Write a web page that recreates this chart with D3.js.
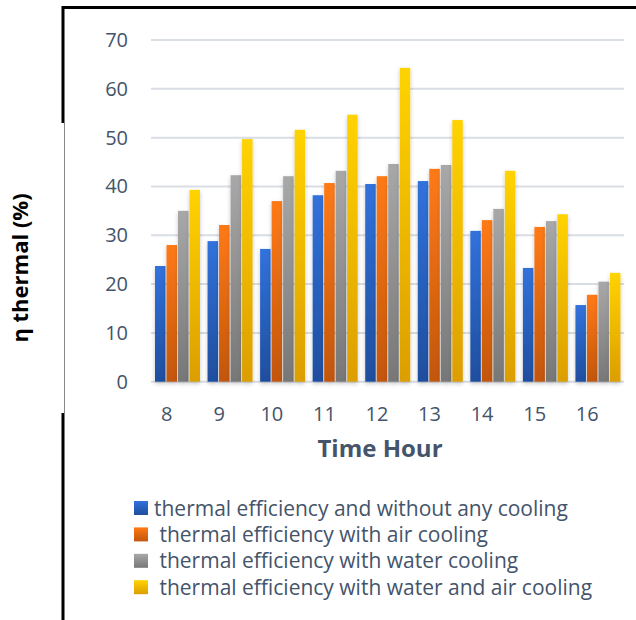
<!DOCTYPE html>
<meta charset="utf-8">
<style>
body { margin: 0; background: #fff; }
svg { display: block; font-family: "Open Sans", sans-serif; }
.grid line { stroke: #d9dde4; stroke-width: 2px; }
.tick-label { fill: #44546a; font-size: 20px; }
.legend text { fill: #44546a; font-size: 21px; }
</style>
<svg width="636" height="620"></svg>
<script src="https://cdn.jsdelivr.net/npm/d3@7"></script>
<script>

var hours = ["8", "9", "10", "11", "12", "13", "14", "15", "16"];
var seriesNames = [
  "thermal efficiency and without any cooling",
  " thermal efficiency with air cooling",
  " thermal efficiency with water cooling",
  " thermal efficiency with water and air cooling"
];
var noCooling = [23.7, 28.8, 27.2, 38.2, 40.5, 41.1, 30.9, 23.3, 15.7];
var airCooling = [28.0, 32.1, 37.0, 40.7, 42.1, 43.6, 33.1, 31.7, 17.8];
var waterCooling = [35.0, 42.3, 42.1, 43.2, 44.6, 44.4, 35.4, 32.9, 20.5];
var waterAirCooling = [39.3, 49.7, 51.6, 54.7, 64.3, 53.6, 43.2, 34.3, 22.3];
var yTicks = [0, 10, 20, 30, 40, 50, 60, 70];

var seriesValues = [noCooling, airCooling, waterCooling, waterAirCooling];
var gradients = [
  ["#3172dc", "#1f4e9e"],
  ["#ff7a14", "#c2560f"],
  ["#a8a8a8", "#777777"],
  ["#ffd300", "#dc9e00"]
];

var svg = d3.select("svg");

var defs = svg.append("defs");
gradients.forEach(function(g, i) {
  var lg = defs.append("linearGradient")
      .attr("id", "grad" + i)
      .attr("x1", 0).attr("y1", 0).attr("x2", 0).attr("y2", 1);
  lg.append("stop").attr("offset", "0%").attr("stop-color", g[0]);
  lg.append("stop").attr("offset", "100%").attr("stop-color", g[1]);
});
defs.append("filter")
    .attr("id", "shadow")
    .attr("x", "-50%").attr("y", "-10%").attr("width", "200%").attr("height", "130%")
  .append("feDropShadow")
    .attr("dx", 0).attr("dy", 2)
    .attr("stdDeviation", 2)
    .attr("flood-color", "#000")
    .attr("flood-opacity", 0.22);

// frame
svg.append("path")
    .attr("d", "M63,620V413M63,123V7.5H636")
    .attr("fill", "none")
    .attr("stroke", "#000")
    .attr("stroke-width", 3);
svg.append("line")
    .attr("x1", 64.5).attr("x2", 64.5)
    .attr("y1", 123).attr("y2", 413)
    .attr("stroke", "#888")
    .attr("stroke-width", 1);

var y = d3.scaleLinear().domain([0, 70]).range([381.7, 40]);
var x0 = d3.scaleBand().domain(hours).range([151, 624]);
var x1 = d3.scaleBand().domain(d3.range(4)).range([4, 49]).paddingInner(0.09);

svg.append("g")
    .attr("class", "grid")
  .selectAll("line")
  .data(yTicks)
  .enter().append("line")
    .attr("x1", 151).attr("x2", 624)
    .attr("y1", function(d) { return y(d); })
    .attr("y2", function(d) { return y(d); });

svg.append("g")
  .selectAll("text")
  .data(yTicks)
  .enter().append("text")
    .attr("class", "tick-label")
    .attr("x", 128)
    .attr("y", function(d) { return y(d); })
    .attr("dy", "0.35em")
    .attr("text-anchor", "end")
    .text(function(d) { return d; });

svg.append("g")
  .selectAll("text")
  .data(hours)
  .enter().append("text")
    .attr("class", "tick-label")
    .attr("x", function(d) { return x0(d) + x0.bandwidth() / 2 - 10.5; })
    .attr("y", 421)
    .attr("text-anchor", "middle")
    .text(function(d) { return d; });

var groups = svg.append("g")
  .selectAll("g")
  .data(hours)
  .enter().append("g")
    .attr("transform", function(d) { return "translate(" + x0(d) + ",0)"; });

groups.selectAll("rect")
  .data(function(d, i) { return seriesValues.map(function(s, k) { return {k: k, v: s[i]}; }); })
  .enter().append("rect")
    .attr("x", function(d) { return x1(d.k); })
    .attr("width", x1.bandwidth())
    .attr("y", function(d) { return y(d.v); })
    .attr("height", function(d) { return y(0) - y(d.v); })
    .attr("fill", function(d) { return "url(#grad" + d.k + ")"; })
    .attr("filter", "url(#shadow)");

svg.append("text")
    .attr("x", 380)
    .attr("y", 457)
    .attr("text-anchor", "middle")
    .attr("font-size", 24)
    .attr("font-weight", "bold")
    .attr("fill", "#44546a")
    .text("Time Hour");

svg.append("text")
    .attr("transform", "translate(28,268) rotate(-90)")
    .attr("text-anchor", "middle")
    .attr("font-size", 22)
    .attr("font-weight", "bold")
    .attr("fill", "#000")
    .text("η thermal (%)");

var legend = svg.append("g")
    .attr("class", "legend")
  .selectAll("g")
  .data(seriesNames)
  .enter().append("g")
    .attr("transform", function(d, i) { return "translate(134," + (501 + i * 26.4) + ")"; });

legend.append("rect")
    .attr("width", 14)
    .attr("height", 14)
    .attr("fill", function(d, i) { return "url(#grad" + i + ")"; });

legend.append("text")
    .attr("x", 20)
    .attr("y", 14.5)
    .attr("xml:space", "preserve")
    .style("white-space", "pre")
    .text(function(d) { return d; });

</script>
